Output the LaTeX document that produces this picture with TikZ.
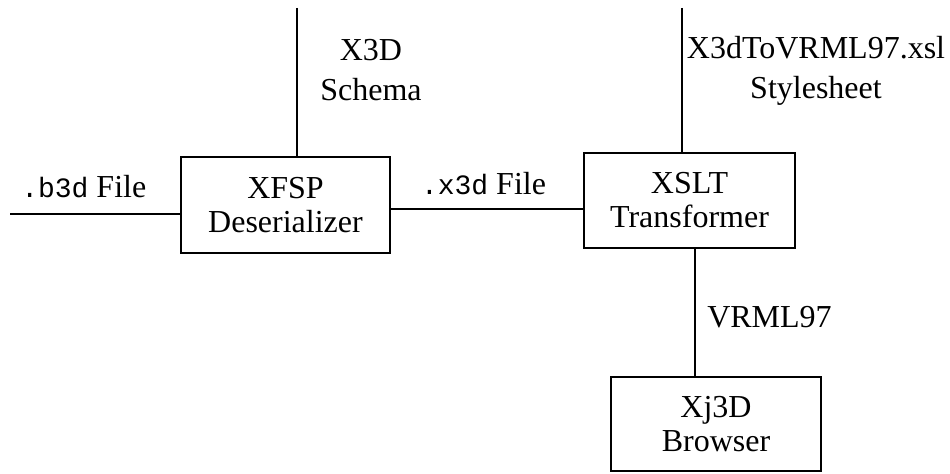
\documentclass[tikz,border=0pt]{standalone}
\usepackage{fontspec}
\setmainfont{Liberation Serif}
\setmonofont{Liberation Mono}
\usetikzlibrary{calc}
\newcommand{\extname}[1]{{\fontsize{21}{22}\selectfont\ttfamily #1}}

\begin{document}
\begin{tikzpicture}[x=0.75pt,y=-0.75pt,
    stage/.style={draw,line width=1.5pt,align=center,inner sep=0pt,
      font=\fontsize{24}{25.5}\selectfont},
    lbl/.style={align=center,inner sep=0pt,font=\fontsize{24}{30}\selectfont},
    wire/.style={line width=1pt}]
  \useasboundingbox (0,0) rectangle (950,474);

  \node[stage,minimum width=156.8pt,minimum height=72pt] (xfsp) at (285.5,205) {XFSP\\Deserializer};
  \node[stage,minimum width=158.3pt,minimum height=71.3pt] (xslt) at (689.5,200.5) {XSLT\\Transformer};
  \node[stage,minimum width=157.5pt,minimum height=70.5pt] (xj3d) at (716,424) {Xj3D\\Browser};

  \coordinate (b3din) at (10,214);
  \coordinate (schema) at (297,8);
  \coordinate (xsl) at (682,8);
  \coordinate (x3dwire) at (0,209);
  \coordinate (vrmlwire) at (695,0);

  \path[wire]
    (b3din) edge (b3din -| xfsp.west)
    (schema) edge (schema |- xfsp.north)
    (xsl) edge (xsl |- xslt.north)
    (x3dwire -| xfsp.east) edge (x3dwire -| xslt.west)
    (vrmlwire |- xslt.south) edge (vrmlwire |- xj3d.north);

  \node[lbl,anchor=base west] (b3dlbl) at (21,198) {\extname{.b3d} File};
  \node[lbl,anchor=base] (x3dlbl) at (483.5,195) {\extname{.x3d} File};
  \node[lbl] (schemalbl) at (371,70) {X3D\\Schema};
  \node[lbl] (xsllbl) at (816,71) {X3dToVRML97.xsl\\Stylesheet};
  \node[lbl,anchor=base west] (vrmllbl) at (707,327) {VRML97};
\end{tikzpicture}
\end{document}
